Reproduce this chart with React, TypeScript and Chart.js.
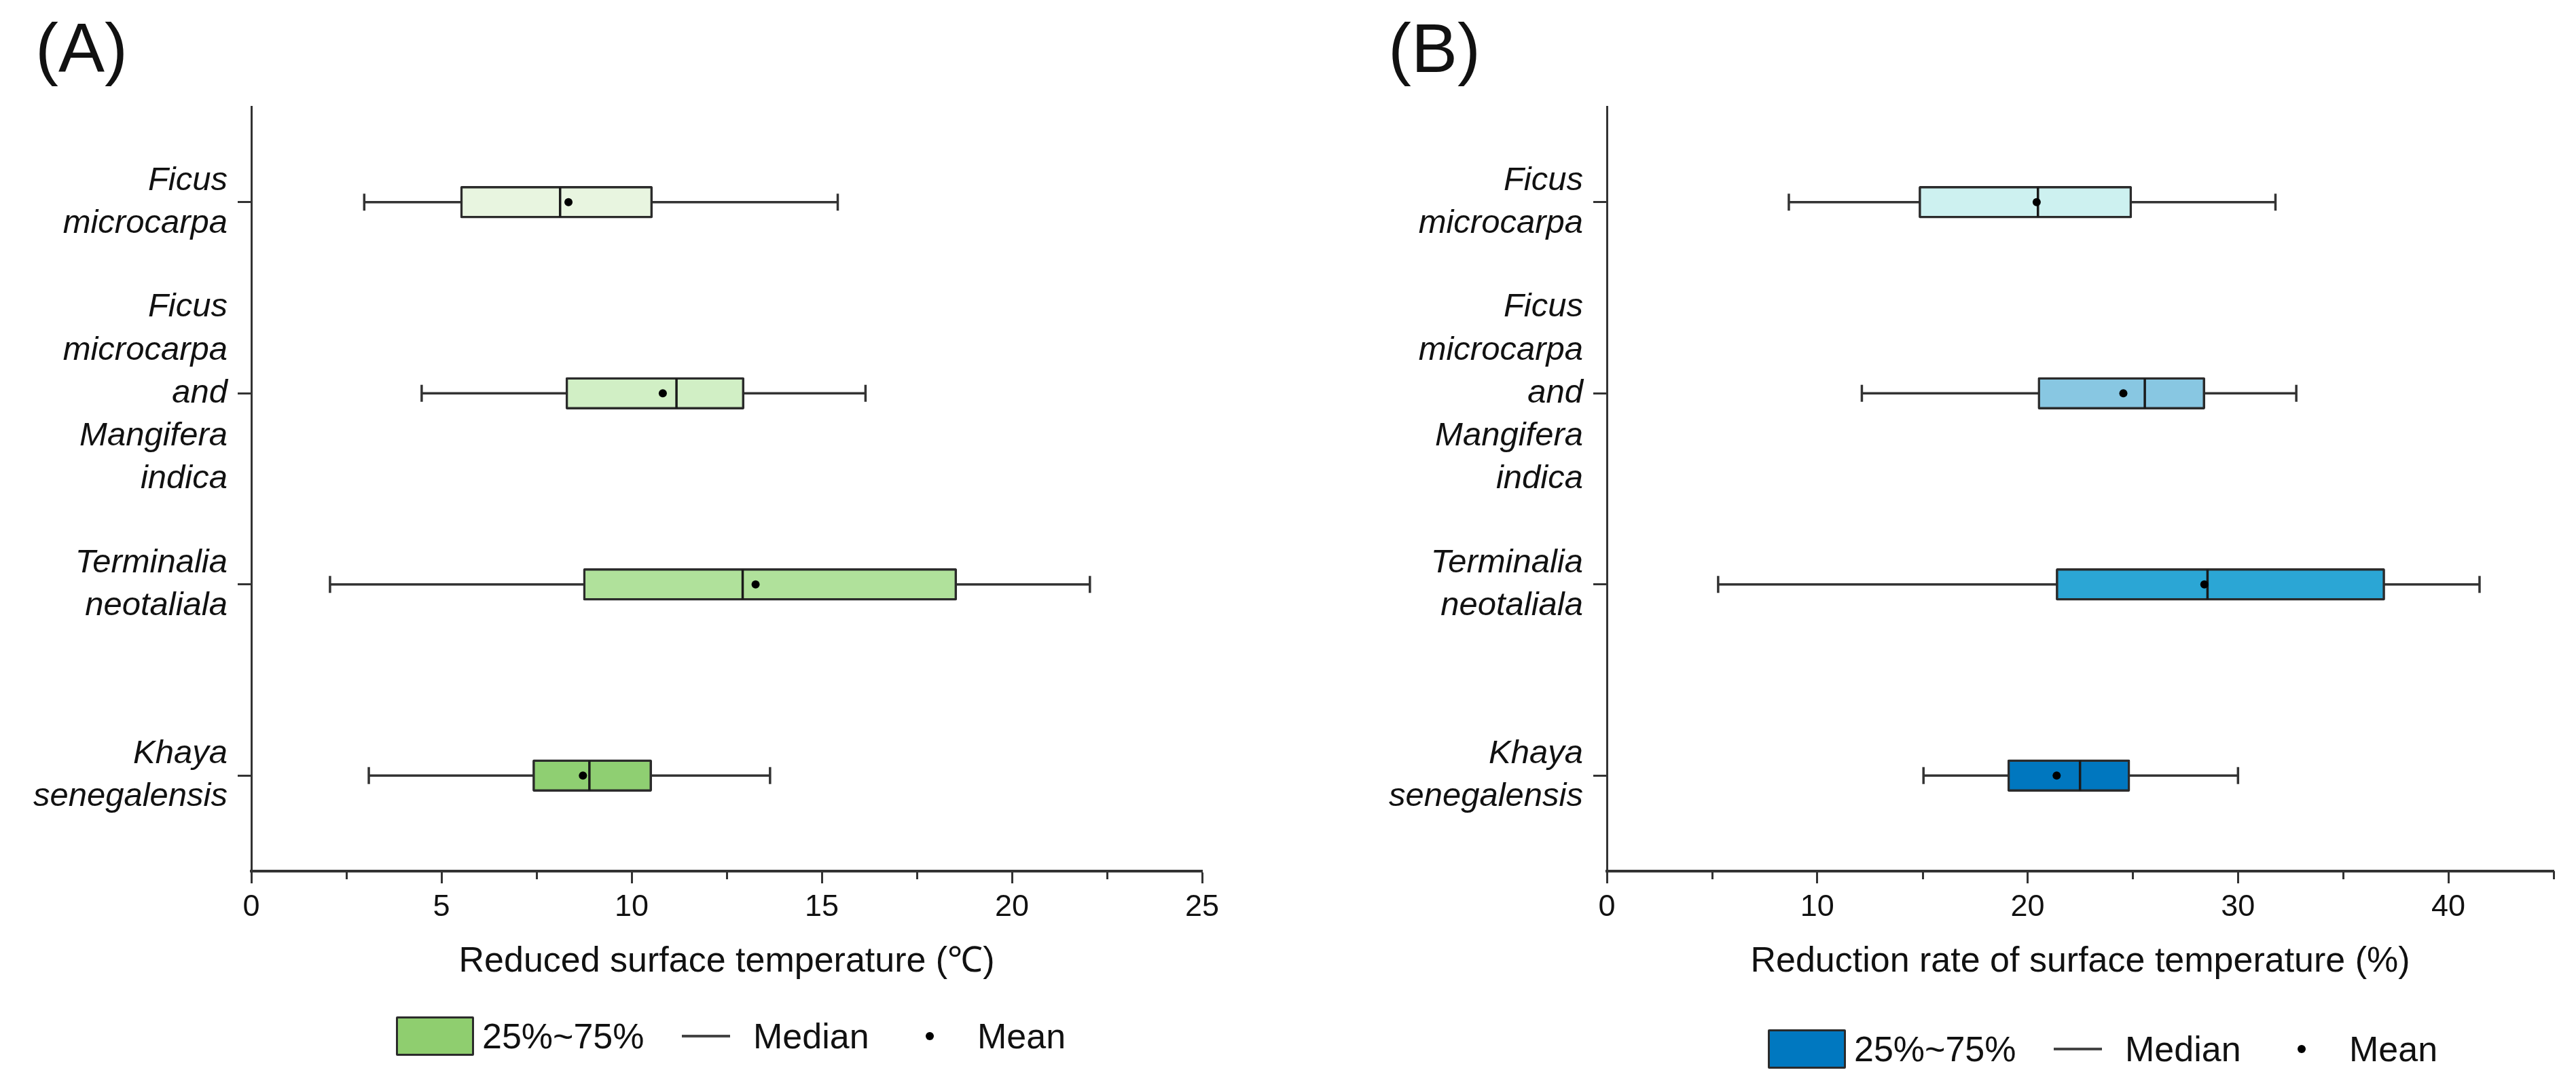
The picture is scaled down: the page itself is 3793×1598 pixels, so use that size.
import React, { useEffect, useRef } from 'react';
import { Chart, registerables } from 'chart.js';

Chart.register(...registerables);

// ---------------- data ----------------
const CATEGORIES = [
  ['Ficus', 'microcarpa'],
  ['Ficus', 'microcarpa', 'and', 'Mangifera', 'indica'],
  ['Terminalia', 'neotaliala'],
  ['Khaya', 'senegalensis'],
];

// Panel A: Reduced surface temperature (℃)
const A_MIN = [2.97, 4.48, 2.07, 3.09];
const A_Q1 = [5.5, 8.27, 8.73, 7.4];
const A_MEDIAN = [8.12, 11.18, 12.92, 8.89];
const A_Q3 = [10.55, 12.96, 18.55, 10.53];
const A_MAX = [15.42, 16.15, 22.05, 13.64];
const A_MEAN = [8.34, 10.82, 13.26, 8.72];
const A_COLORS = ['#e8f5e0', '#d1efc5', '#b0e19b', '#8fcf72'];
const A_MINOR_TICKS = [2.5, 7.5, 12.5, 17.5, 22.5];

// Panel B: Reduction rate of surface temperature (%)
const B_MIN = [8.65, 12.12, 5.29, 15.05];
const B_Q1 = [14.83, 20.49, 21.35, 19.05];
const B_MEDIAN = [20.49, 25.57, 28.55, 22.49];
const B_Q3 = [24.95, 28.43, 36.98, 24.86];
const B_MAX = [31.78, 32.77, 41.48, 30.0];
const B_MEAN = [20.43, 24.55, 28.4, 21.38];
const B_COLORS = ['#cdf1f0', '#88c7e2', '#2ba6d5', '#0077bf'];
const B_MINOR_TICKS = [5, 15, 25, 35, 45];

const LEGEND_LABELS = ['25%~75%', 'Median', 'Mean'];

// ---------------- styles ----------------
const FONT = "'Liberation Sans', Arial, Helvetica, sans-serif";
const AXIS_COLOR = '#333333';
const BOX_EDGE = '#2b2b2b';
const TEXT_COLOR = '#111111';
const CANVAS_H = 1470;

const minorTickPlugin = {
  id: 'minorTicks',
  afterDraw(chart: any, _args: any, opts: any) {
    const xs = chart.scales.x;
    if (!xs || !opts || !opts.values) return;
    const ctx = chart.ctx;
    ctx.save();
    ctx.strokeStyle = opts.color;
    ctx.lineWidth = opts.width;
    for (const v of opts.values) {
      const px = Math.round(xs.getPixelForValue(v)) + 0.5;
      ctx.beginPath();
      ctx.moveTo(px, xs.top);
      ctx.lineTo(px, xs.top + opts.length);
      ctx.stroke();
    }
    ctx.restore();
  },
};

type Spec = {
  min: number[];
  q1: number[];
  median: number[];
  q3: number[];
  max: number[];
  mean: number[];
  colors: string[];
  xMax: number;
  xStep: number;
  minor: number[];
  title: string;
  yAxisWidth: number;
  rightPad: number;
};

function buildConfig(s: Spec): any {
  return {
    type: 'bar',
    data: {
      labels: CATEGORIES,
      datasets: [
        {
          type: 'line',
          label: LEGEND_LABELS[2],
          indexAxis: 'y',
          data: s.mean,
          showLine: false,
          pointStyle: 'circle',
          pointRadius: 6,
          pointHoverRadius: 6,
          pointBackgroundColor: '#000000',
          pointBorderWidth: 0,
          order: 0,
        },
        {
          type: 'line',
          label: LEGEND_LABELS[1],
          indexAxis: 'y',
          data: s.median,
          showLine: false,
          pointStyle: 'line',
          pointRotation: 90,
          pointRadius: 22,
          pointHoverRadius: 22,
          pointBorderColor: '#1a1a1a',
          pointBorderWidth: 3.5,
          order: 1,
        },
        {
          type: 'line',
          label: 'Whisker min',
          indexAxis: 'y',
          data: s.min,
          showLine: false,
          pointStyle: 'line',
          pointRotation: 90,
          pointRadius: 12.5,
          pointHoverRadius: 12.5,
          pointBorderColor: AXIS_COLOR,
          pointBorderWidth: 3.5,
          order: 1,
        },
        {
          type: 'line',
          label: 'Whisker max',
          indexAxis: 'y',
          data: s.max,
          showLine: false,
          pointStyle: 'line',
          pointRotation: 90,
          pointRadius: 12.5,
          pointHoverRadius: 12.5,
          pointBorderColor: AXIS_COLOR,
          pointBorderWidth: 3.5,
          order: 1,
        },
        {
          type: 'bar',
          label: LEGEND_LABELS[0],
          indexAxis: 'y',
          data: s.q1.map((v, i) => [v, s.q3[i]]),
          backgroundColor: s.colors,
          borderColor: BOX_EDGE,
          borderWidth: 3.5,
          borderSkipped: false,
          borderRadius: 2,
          barThickness: 47,
          grouped: false,
          order: 2,
        },
        {
          type: 'bar',
          label: 'Whisker',
          indexAxis: 'y',
          data: s.min.map((v, i) => [v, s.max[i]]),
          backgroundColor: AXIS_COLOR,
          borderWidth: 0,
          barThickness: 3,
          grouped: false,
          order: 3,
        },
      ],
    },
    options: {
      indexAxis: 'y',
      responsive: false,
      maintainAspectRatio: false,
      animation: false,
      devicePixelRatio: 1,
      events: [],
      layout: { padding: { left: 0, top: 157, right: s.rightPad, bottom: 22 } },
      plugins: {
        legend: { display: false },
        tooltip: { enabled: false },
        minorTicks: { values: s.minor, length: 12, width: 3, color: AXIS_COLOR },
      },
      scales: {
        x: {
          type: 'linear',
          position: 'bottom',
          min: 0,
          max: s.xMax,
          ticks: {
            stepSize: s.xStep,
            includeBounds: false,
            padding: 9,
            color: TEXT_COLOR,
            font: { family: FONT, size: 45 },
            maxRotation: 0,
          },
          grid: {
            display: true,
            drawOnChartArea: false,
            drawTicks: true,
            tickLength: 18,
            tickWidth: 3,
            tickColor: AXIS_COLOR,
          },
          border: { display: true, width: 4, color: AXIS_COLOR },
          title: {
            display: true,
            text: s.title,
            color: TEXT_COLOR,
            font: { family: FONT, size: 52, lineHeight: 1.2 },
            padding: { top: 0, bottom: 0 },
          },
          afterFit: (scale: any) => {
            scale.height = 165;
          },
        },
        y: {
          type: 'category',
          offset: true,
          ticks: {
            padding: 15,
            autoSkip: false,
            color: TEXT_COLOR,
            font: { family: FONT, size: 49, style: 'italic', lineHeight: 1.29 },
          },
          grid: {
            display: true,
            offset: false,
            drawOnChartArea: false,
            drawTicks: true,
            tickLength: 20,
            tickWidth: 3,
            tickColor: AXIS_COLOR,
          },
          border: { display: true, width: 3, color: AXIS_COLOR },
          afterFit: (scale: any) => {
            scale.width = s.yAxisWidth;
          },
        },
      },
    },
    plugins: [minorTickPlugin],
  };
}

function Panel({ spec, left, width }: { spec: Spec; left: number; width: number }) {
  const ref = useRef<HTMLCanvasElement>(null);
  useEffect(() => {
    if (!ref.current) return;
    const chart = new Chart(ref.current, buildConfig(spec));
    return () => chart.destroy();
  }, []);
  return (
    <canvas
      ref={ref}
      width={width}
      height={CANVAS_H}
      style={{ position: 'absolute', left, top: 0, width, height: CANVAS_H }}
    />
  );
}

function LegendRow({ x, cy, color }: { x: number; cy: number; color: string }) {
  const textStyle: React.CSSProperties = {
    position: 'absolute',
    top: cy - 40,
    height: 80,
    lineHeight: '80px',
    fontFamily: FONT,
    fontSize: 52,
    color: TEXT_COLOR,
    whiteSpace: 'nowrap',
  };
  return (
    <>
      <div
        style={{
          position: 'absolute',
          left: x,
          top: cy - 29,
          width: 115,
          height: 58,
          boxSizing: 'border-box',
          border: `3px solid ${BOX_EDGE}`,
          borderRadius: 2,
          background: color,
        }}
      />
      <div style={{ ...textStyle, left: x + 127 }}>{LEGEND_LABELS[0]}</div>
      <div
        style={{
          position: 'absolute',
          left: x + 421,
          top: cy - 2,
          width: 71,
          height: 4,
          background: '#444444',
        }}
      />
      <div style={{ ...textStyle, left: x + 526 }}>{LEGEND_LABELS[1]}</div>
      <div
        style={{
          position: 'absolute',
          left: x + 780,
          top: cy - 6,
          width: 12,
          height: 12,
          borderRadius: '50%',
          background: '#000000',
        }}
      />
      <div style={{ ...textStyle, left: x + 856 }}>{LEGEND_LABELS[2]}</div>
    </>
  );
}

const SPEC_A: Spec = {
  min: A_MIN,
  q1: A_Q1,
  median: A_MEDIAN,
  q3: A_Q3,
  max: A_MAX,
  mean: A_MEAN,
  colors: A_COLORS,
  xMax: 25,
  xStep: 5,
  minor: A_MINOR_TICKS,
  title: 'Reduced surface temperature (℃)',
  yAxisWidth: 370,
  rightPad: 1896 - 1770,
};

const SPEC_B: Spec = {
  min: B_MIN,
  q1: B_Q1,
  median: B_MEDIAN,
  q3: B_Q3,
  max: B_MAX,
  mean: B_MEAN,
  colors: B_COLORS,
  xMax: 45,
  xStep: 10,
  minor: B_MINOR_TICKS,
  title: 'Reduction rate of surface temperature (%)',
  yAxisWidth: 2366 - 1896,
  rightPad: 1897 - (3760 - 1896),
};

export default function App() {
  const panelLabel: React.CSSProperties = {
    position: 'absolute',
    top: 20,
    fontFamily: FONT,
    fontSize: 102,
    lineHeight: '102px',
    color: TEXT_COLOR,
    whiteSpace: 'nowrap',
  };
  return (
    <div
      style={{
        position: 'absolute',
        left: 0,
        top: 0,
        width: 3793,
        height: 1598,
        background: '#ffffff',
        overflow: 'hidden',
      }}
    >
      <Panel spec={SPEC_A} left={0} width={1896} />
      <Panel spec={SPEC_B} left={1896} width={1897} />
      <div style={{ ...panelLabel, left: 52 }}>(A)</div>
      <div style={{ ...panelLabel, left: 2044 }}>(B)</div>
      <LegendRow x={583} cy={1526} color="#8fce6f" />
      <LegendRow x={2603} cy={1545} color="#0078c0" />
    </div>
  );
}
